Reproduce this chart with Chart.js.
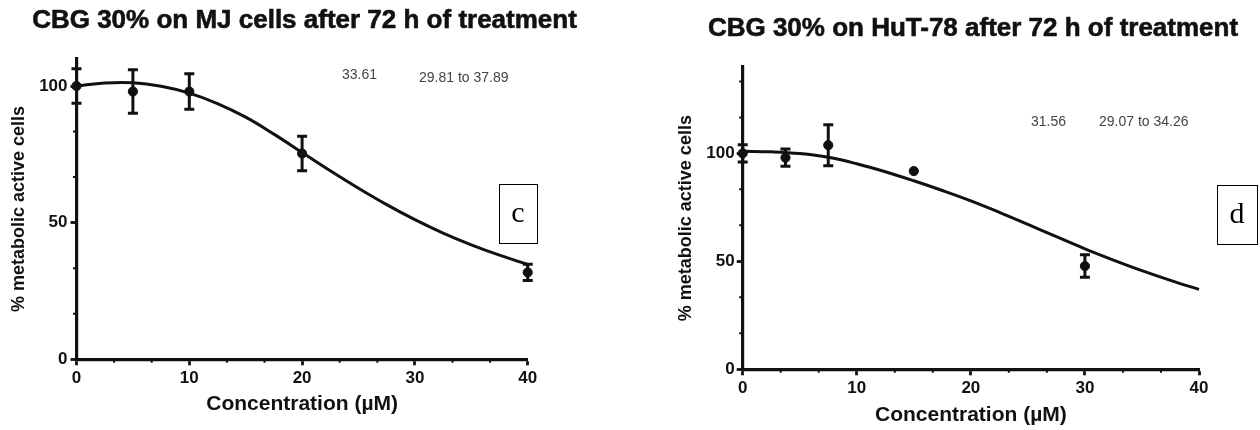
<!DOCTYPE html>
<html>
<head>
<meta charset="utf-8">
<script src="https://cdn.jsdelivr.net/npm/chart.js@4.4.0/dist/chart.umd.min.js"></script>
<style>
  html, body { margin: 0; padding: 0; background: #fff; }
  .panel { position: absolute; top: 0; width: 630px; height: 430px; }
  #panelC { left: 0; }
  #panelD { left: 630px; }
</style>
</head>
<body>
<div class="panel" id="panelC"><canvas id="chartC"></canvas></div>
<div class="panel" id="panelD"><canvas id="chartD"></canvas></div>
<script>
// MJ cells, measured means and SD
const mjConc = [0, 5, 10, 20, 40];
const mjMean = [100, 98, 98, 75.3, 31.8];
const mjSd = [6.3, 8, 6.5, 6.3, 3];
// fitted dose-response curve for MJ
const mjFitConc = [0, 2.5, 5, 7.5, 10, 12.5, 15, 17.5, 20, 22.5, 25, 27.5, 30, 32.5, 35, 37.5, 40];
const mjFit = [100, 101.1, 101.2, 99.9, 97.4, 93.6, 88.6, 82.4, 75.7, 69.0, 62.6, 56.6, 51.1, 46.2, 41.9, 38.1, 34.7];
const mjIc50 = "33.61";
const mjCi = "29.81 to 37.89";

// HuT-78, measured means and SD
const hutConc = [0, 3.75, 7.5, 15, 30];
const hutMean = [100, 98, 103.8, 91.8, 47.8];
const hutSd = [4, 4, 9.5, 0, 5.2];
// fitted dose-response curve for HuT-78
const hutFitConc = [0, 2.5, 5, 7.5, 10, 12.5, 15, 17.5, 20, 22.5, 25, 27.5, 30, 32.5, 35, 37.5, 40];
const hutFit = [101, 100.7, 99.9, 98.2, 95.2, 91.5, 87.3, 82.8, 78.0, 72.7, 67.1, 61.4, 55.8, 50.6, 45.7, 41.2, 37.0];
const hutIc50 = "31.56";
const hutCi = "29.07 to 34.26";

// axis ticks
const xMajor = [0, 10, 20, 30, 40];
const yMajor = [0, 50, 100];
const xMinorStep = 10 / 3;
const yMinorStep = 50 / 3;

const SANS = "'Liberation Sans', Arial, sans-serif";
const BLACK = "#111";

// vertical error bars with caps, drawn through the chart scales
const errorBars = {
    id: "errorBars",
    afterDatasetsDraw(chart) {
        const ctx = chart.ctx;
        const xs = chart.scales.x, ys = chart.scales.y;
        chart.data.datasets.forEach(ds => {
            if (!ds.errors) return;
            ctx.save();
            ctx.strokeStyle = BLACK;
            ctx.lineWidth = 3;
            ds.data.forEach((p, i) => {
                const e = ds.errors[i];
                if (!e) return;
                const px = xs.getPixelForValue(p.x);
                const top = ys.getPixelForValue(p.y + e);
                const bot = ys.getPixelForValue(p.y - e);
                ctx.beginPath();
                ctx.moveTo(px, top); ctx.lineTo(px, bot);
                ctx.moveTo(px - 5, top); ctx.lineTo(px + 5, top);
                ctx.moveTo(px - 5, bot); ctx.lineTo(px + 5, bot);
                ctx.stroke();
            });
            ctx.restore();
        });
    }
};

// small minor ticks between the labelled ones
const minorTicks = {
    id: "minorTicks",
    afterDraw(chart) {
        const ctx = chart.ctx;
        const xs = chart.scales.x, ys = chart.scales.y;
        const area = chart.chartArea;
        ctx.save();
        ctx.strokeStyle = BLACK;
        ctx.lineWidth = 2;
        ctx.beginPath();
        for (let v = xMinorStep; v < xs.max; v += xMinorStep) {
            if (xMajor.some(m => Math.abs(m - v) < 0.01)) continue;
            const px = xs.getPixelForValue(v);
            ctx.moveTo(px, area.bottom);
            ctx.lineTo(px, area.bottom + 3.5);
        }
        for (let v = yMinorStep; v < ys.max; v += yMinorStep) {
            if (yMajor.some(m => Math.abs(m - v) < 0.01)) continue;
            const py = ys.getPixelForValue(v);
            ctx.moveTo(area.left, py);
            ctx.lineTo(area.left - 3.5, py);
        }
        ctx.stroke();
        ctx.restore();
    }
};

// panel title, IC50 text and the boxed panel letter
const panelText = {
    id: "panelText",
    afterDraw(chart, args, opts) {
        const ctx = chart.ctx;
        ctx.save();
        ctx.fillStyle = BLACK;
        ctx.strokeStyle = BLACK;
        ctx.lineWidth = 0.6;
        ctx.font = "bold 26px " + SANS;
        ctx.textAlign = "center";
        ctx.textBaseline = "alphabetic";
        ctx.fillText(opts.title, opts.titleX, opts.titleY);
        ctx.strokeText(opts.title, opts.titleX, opts.titleY);

        ctx.fillStyle = "#444";
        ctx.font = "14px " + SANS;
        ctx.textAlign = "left";
        ctx.textBaseline = "middle";
        ctx.fillText(opts.ic50, opts.ic50X, opts.ic50Y);
        ctx.fillText(opts.ci, opts.ciX, opts.ciY);

        const b = opts.box;
        ctx.fillStyle = "#fff";
        ctx.fillRect(b.x, b.y, b.w, b.h);
        ctx.strokeStyle = "#000";
        ctx.lineWidth = 1;
        ctx.strokeRect(b.x + 0.5, b.y + 0.5, b.w, b.h);
        ctx.fillStyle = "#000";
        ctx.font = "30px 'Liberation Serif', 'Times New Roman', serif";
        ctx.textAlign = "center";
        ctx.textBaseline = "middle";
        ctx.fillText(opts.letter, b.x + b.w / 2, b.y + b.h / 2 + 1);
        ctx.restore();
    }
};

function pairs(xs, ys) {
    return xs.map((x, i) => ({ x, y: ys[i] }));
}

function makePanel(canvasId, p) {
    return new Chart(document.getElementById(canvasId), {
        type: "scatter",
        data: {
            datasets: [{
                type: "line",
                data: pairs(p.fitConc, p.fit),
                borderColor: BLACK,
                borderWidth: 3,
                pointRadius: 0,
                tension: 0.4,
                fill: false,
                clip: false
            }, {
                type: "scatter",
                data: pairs(p.conc, p.mean),
                errors: p.sd,
                backgroundColor: BLACK,
                borderColor: BLACK,
                pointRadius: 4.6,
                pointHoverRadius: 4.6,
                clip: false
            }]
        },
        options: {
            responsive: true,
            maintainAspectRatio: false,
            animation: false,
            events: [],
            layout: { padding: { left: 0, right: p.padRight, top: p.padTop, bottom: 0 } },
            plugins: {
                legend: { display: false },
                tooltip: { enabled: false },
                panelText: p.text
            },
            scales: {
                x: {
                    type: "linear",
                    min: 0,
                    max: 40,
                    afterBuildTicks: s => { s.ticks = xMajor.map(v => ({ value: v })); },
                    afterFit: s => { s.height = p.xHeight; },
                    grid: { drawOnChartArea: false, drawTicks: true, tickLength: 6, tickWidth: 2.8, tickColor: BLACK },
                    border: { display: true, color: BLACK, width: 3.2 },
                    ticks: { color: BLACK, padding: 3, font: { family: SANS, size: 17, weight: "bold" } },
                    title: {
                        display: true,
                        text: "Concentration (µM)",
                        color: BLACK,
                        font: { family: SANS, size: 21, weight: "bold" },
                        padding: { top: 0, bottom: p.xTitlePad }
                    }
                },
                y: {
                    type: "linear",
                    min: 0,
                    max: p.yMax,
                    afterBuildTicks: s => { s.ticks = yMajor.map(v => ({ value: v })); },
                    afterFit: s => { s.width = p.yWidth; },
                    grid: { drawOnChartArea: false, drawTicks: true, tickLength: 6, tickWidth: 2.8, tickColor: BLACK },
                    border: { display: true, color: BLACK, width: 3.2 },
                    ticks: { color: BLACK, padding: p.yTickPad, font: { family: SANS, size: 17, weight: "bold" } },
                    title: {
                        display: true,
                        text: "% metabolic active cells",
                        color: BLACK,
                        font: { family: SANS, size: 18, weight: "bold" },
                        padding: { top: p.yTitlePad, bottom: 0 }
                    }
                }
            }
        },
        plugins: [errorBars, minorTicks, panelText]
    });
}

makePanel("chartC", {
    conc: mjConc, mean: mjMean, sd: mjSd, fitConc: mjFitConc, fit: mjFit,
    yMax: 110, padTop: 58.7, padRight: 102.3, xHeight: 70.7, yWidth: 76.5,
    xTitlePad: 13, yTitlePad: 8, yTickPad: 3,
    text: {
        title: "CBG 30% on MJ cells after 72 h of treatment", titleX: 304.5, titleY: 28,
        ic50: mjIc50, ic50X: 342, ic50Y: 75,
        ci: mjCi, ciX: 419, ciY: 78,
        letter: "c", box: { x: 499, y: 184, w: 38, h: 59 }
    }
});

makePanel("chartD", {
    conc: hutConc, mean: hutMean, sd: hutSd, fitConc: hutFitConc, fit: hutFit,
    yMax: 140, padTop: 67, padRight: 61, xHeight: 60.7, yWidth: 112.7,
    xTitlePad: 2, yTitlePad: 45, yTickPad: 2,
    text: {
        title: "CBG 30% on HuT-78 after 72 h of treatment", titleX: 343, titleY: 36,
        ic50: hutIc50, ic50X: 401, ic50Y: 122,
        ci: hutCi, ciX: 469, ciY: 122,
        letter: "d", box: { x: 587, y: 185, w: 40, h: 59 }
    }
});
</script>
</body>
</html>
